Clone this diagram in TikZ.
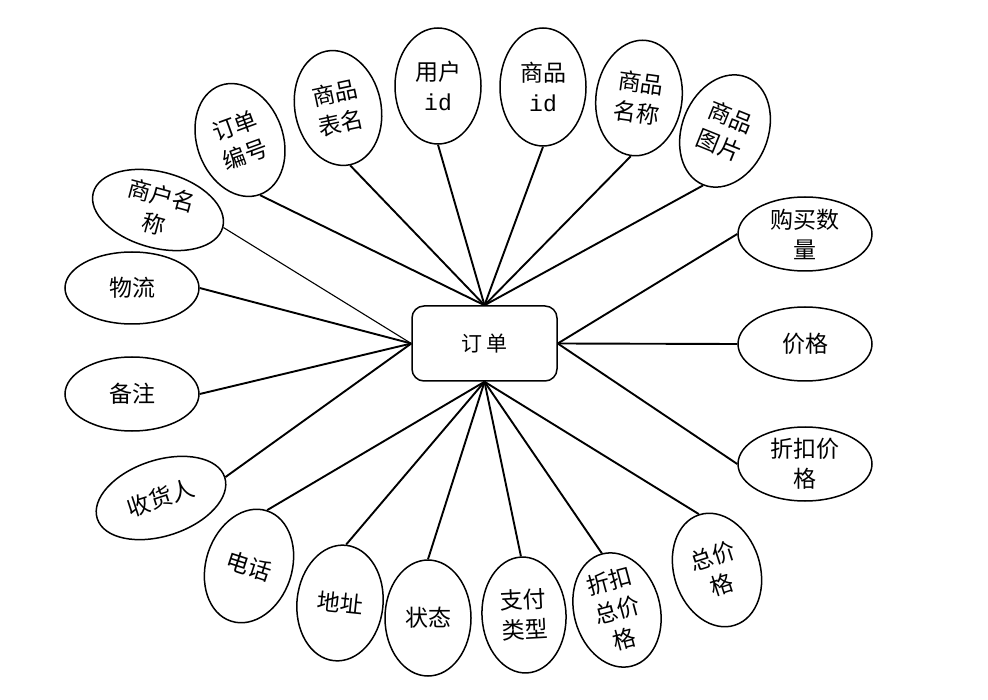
\documentclass[tikz,border=0pt]{standalone}
\usepackage{fontspec}
\newfontfamily\cjk{Noto Sans CJK SC}
\newfontfamily\monof{Liberation Mono}
\usetikzlibrary{shapes.geometric}
\begin{document}
\begin{tikzpicture}[x=1pt,y=-1pt,
  attr/.style={ellipse, draw, line width=1.5pt, inner sep=-10pt, align=center,
    font=\cjk\fontsize{23}{30}\selectfont},
  vert/.style={attr, minimum width=86pt, minimum height=116pt},
  horz/.style={attr, minimum width=134pt, minimum height=74pt},
  ent/.style={draw, line width=1.5pt, rounded corners=12pt, minimum width=145pt,
    minimum height=75pt, font=\cjk\fontsize{21}{28}\selectfont},
  link/.style={line width=1.9pt},
  thin/.style={line width=1.1pt}]
\useasboundingbox (0,0) rectangle (988,700);
\node[ent] (order) at (484.5,343.5) {订\,单};
% top
\node[vert, rotate=20] (bh) at (240,140) {订单\\编号};
\node[vert, rotate=12] (bm) at (338,108) {商品\\表名};
\node[vert] (yh) at (438,86) {用户\\{\monof id}};
\node[vert, minimum height=118pt] (sp) at (543,87) {商品\\{\monof id}};
\node[vert, rotate=-8] (mc) at (639,98) {商品\\名称};
\node[vert, rotate=-22] (tp) at (725,131) {商品\\图片};
% right
\node[horz] (gm) at (805,234) {购买数\\量};
\node[horz] (jg) at (805,344) {价格};
\node[horz] (zk) at (805,464) {折扣价\\格};
% bottom
\node[vert, rotate=18] (zj) at (717,570) {总价\\格};
\node[vert, rotate=15] (zz) at (617,610) {折扣\\总价\\格};
\node[vert, minimum width=84pt, rotate=3] (zf) at (524,615) {支付\\类型};
\node[vert] (zt) at (428,618) {状态};
\node[vert, rotate=-6] (dz) at (340,603) {地址};
\node[vert, rotate=-18] (dh) at (249,566) {电话};
% left
\node[horz, minimum height=76pt, rotate=18] (sh) at (161,498) {收货人};
\node[horz] (bz) at (132,394) {备注};
\node[horz, minimum height=72pt] (wl) at (132,288) {物流};
\node[horz, minimum height=76pt, rotate=-15] (shm) at (158,210) {商户名\\称};
% connectors
\foreach \n in {bh,bm,yh,sp,mc,tp} \draw[link] (order.north) -- (\n.south);
\foreach \n in {gm,jg,zk} \draw[link] (order.east) -- (\n.west);
\foreach \n in {zj,zz,zf,zt,dz,dh} \draw[link] (order.south) -- (\n.north);
\foreach \n in {sh,bz,wl} \draw[link] (order.west) -- (\n.east);
\draw[thin] (order.west) -- (shm.east);
\end{tikzpicture}
\end{document}
